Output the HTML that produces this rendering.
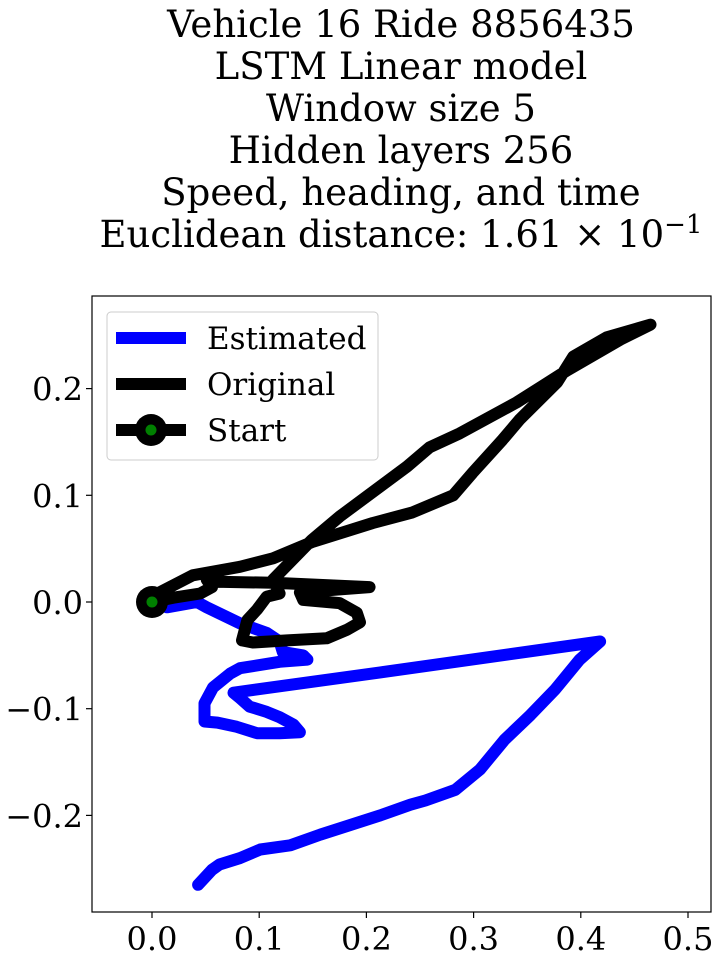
<!DOCTYPE html>
<html><head><meta charset="utf-8"><style>
html,body{margin:0;padding:0;background:#fff;}
svg{display:block;font-family:"DejaVu Serif","Liberation Serif",serif;}
</style></head><body>
<svg id="chart" width="719" height="959" viewBox="0 0 719 959" xmlns="http://www.w3.org/2000/svg">
<g font-size="37" text-anchor="middle" fill="#000">
<text x="401" y="37">Vehicle 16 Ride 8856435</text>
<text x="401" y="79">LSTM Linear model</text>
<text x="401" y="121">Window size 5</text>
<text x="401" y="163">Hidden layers 256</text>
<text x="401" y="205">Speed, heading, and time</text>
<text x="401" y="247">Euclidean distance: 1.61 × 10<tspan dy="-14" font-size="26">−1</tspan></text>
</g>
<g id="plot"></g>
</svg>
<script>
const xTicks=[0.0,0.1,0.2,0.3,0.4,0.5];
const xTickLabels=["0.0","0.1","0.2","0.3","0.4","0.5"];
const yTicks=[-0.2,-0.1,0.0,0.1,0.2];
const yTickLabels=["−0.2","−0.1","0.0","0.1","0.2"];
const estX=[0,.014,.042,.051,.082,.107,.119,.122,.141,.145,.119,.082,.073,.057,.049,.049,.061,.079,.098,.119,.138,.132,.119,.107,.091,.082,.076,.213,.418,.399,.376,.353,.329,.306,.283,.255,.241,.213,.185,.157,.129,.101,.082,.063,.056,.043];
const estY=[0,-.005,0,-.005,-.020,-.029,-.037,-.047,-.050,-.054,-.056,-.062,-.067,-.080,-.095,-.112,-.113,-.117,-.123,-.123,-.122,-.115,-.108,-.103,-.098,-.090,-.085,-.066,-.037,-.054,-.082,-.106,-.129,-.157,-.176,-.186,-.190,-.200,-.209,-.218,-.228,-.232,-.240,-.246,-.251,-.265];
const origX=[0,.007,.038,.082,.113,.149,.206,.243,.281,.299,.327,.343,.378,.393,.424,.465,.437,.387,.340,.287,.259,.238,.175,.149,.113,.119,.107,.098,.089,.084,.094,.126,.163,.182,.194,.191,.175,.141,.138,.203,.113,.061,.051,.056,.045,.020,0];
const origY=[0,.009,.025,.033,.041,.056,.074,.084,.100,.121,.152,.171,.206,.230,.248,.260,.246,.217,.187,.158,.145,.127,.080,.058,.021,.008,.005,-.007,-.017,-.036,-.038,-.036,-.034,-.026,-.019,-.010,-.001,.002,.009,.014,.018,.019,.021,.014,.008,.004,0];
const startPt=[0,0];

const NS="http://www.w3.org/2000/svg";
const g=document.getElementById('plot');
const L=92,R=711,T=296,B=912;
const sx=v=>152+v*1072;
const sy=v=>602-v*1067;
function mk(t,a){const e=document.createElementNS(NS,t);for(const k in a)e.setAttribute(k,a[k]);g.appendChild(e);return e;}
const clip=document.createElementNS(NS,'clipPath');clip.setAttribute('id','cp');
const cr=document.createElementNS(NS,'rect');cr.setAttribute('x',L);cr.setAttribute('y',T);cr.setAttribute('width',R-L);cr.setAttribute('height',B-T);clip.appendChild(cr);g.appendChild(clip);
function line(xs,ys,col,name){
  const d=xs.map((x,i)=>(i?'L':'M')+sx(x).toFixed(1)+','+sy(ys[i]).toFixed(1)).join('');
  const p=mk('path',{d:d,fill:'none',stroke:col,'stroke-width':12,'stroke-linejoin':'round','stroke-linecap':'round','clip-path':'url(#cp)'});
  
  
}
line(estX,estY,'#0000ff','estimated-line');
line(origX,origY,'#000','original-line');
const sc=mk('circle',{cx:sx(startPt[0]),cy:sy(startPt[1]),r:16,fill:'#000'});


mk('circle',{cx:sx(startPt[0]),cy:sy(startPt[1]),r:5.5,fill:'#008000'});
const frame=mk('rect',{x:L,y:T,width:R-L,height:B-T,fill:'none',stroke:'#000','stroke-width':1.2});


xTicks.forEach((v,i)=>{
  mk('line',{x1:sx(v),x2:sx(v),y1:B,y2:B+6,stroke:'#000','stroke-width':1.2});
  const t=mk('text',{x:sx(v),y:B+38,'font-size':32,'text-anchor':'middle'});t.textContent=xTickLabels[i];
  
  
});
yTicks.forEach((v,i)=>{
  mk('line',{x1:L-6,x2:L,y1:sy(v),y2:sy(v),stroke:'#000','stroke-width':1.2});
  const t=mk('text',{x:L-9,y:sy(v)+12,'font-size':32,'text-anchor':'end'});t.textContent=yTickLabels[i];
  
  
});
const lg=mk('rect',{x:107,y:312,width:271,height:148,rx:4,fill:'#fff','fill-opacity':0.8,stroke:'#ccc','stroke-width':1});


const items=[["Estimated","#0000ff",338],["Original","#000",384],["Start","#000",430]];
items.forEach((it,i)=>{
  mk('line',{x1:116,x2:186,y1:it[2],y2:it[2],stroke:it[1],'stroke-width':12});
  if(i==2){mk('circle',{cx:151,cy:it[2],r:16,fill:'#000'});mk('circle',{cx:151,cy:it[2],r:5.5,fill:'#008000'});}
  const t=mk('text',{x:207,y:it[2]+11,'font-size':31});t.textContent=it[0];
  
  
});
</script>
</body></html>
